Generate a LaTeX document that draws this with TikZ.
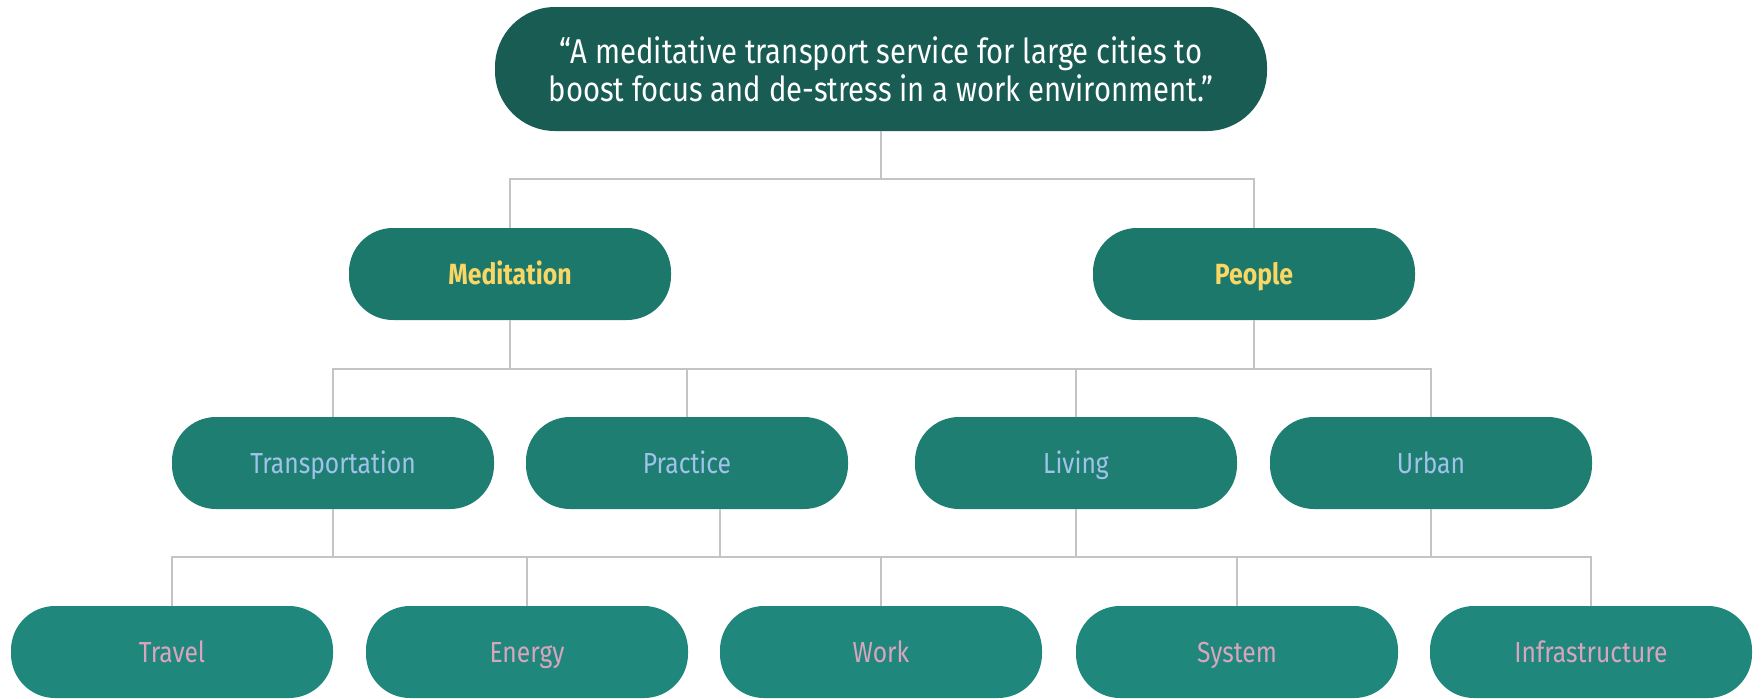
\documentclass[tikz,border=0pt]{standalone}
\usepackage{fontspec}
\setmainfont{Fira Sans}[FakeStretch=0.85]
\usetikzlibrary{positioning}

\definecolor{topgreen}{HTML}{185C54}
\definecolor{catgreen}{HTML}{1D786C}
\definecolor{subgreen}{HTML}{1F7E72}
\definecolor{leafgreen}{HTML}{20877C}
\definecolor{catyellow}{HTML}{FAD764}
\definecolor{subblue}{HTML}{A0C3EB}
\definecolor{leafpink}{HTML}{D7A5BE}
\definecolor{linegray}{HTML}{C4C4C4}

\tikzset{
  box/.style={rounded corners=22pt, minimum width=161pt, minimum height=46pt, inner sep=0pt,
    text height=12pt, text depth=2pt},
  topbox/.style={box, rounded corners=30pt, minimum width=386pt, minimum height=62pt,
    text height=, text depth=,
    fill=topgreen, text=white, align=center, font=\fontsize{17.2}{19}\selectfont},
  catbox/.style={box, fill=catgreen, text=catyellow, font=\bfseries\fontsize{14.6}{16}\selectfont},
  subbox/.style={box, fill=subgreen, text=subblue, font=\fontsize{14.5}{16}\selectfont},
  leafbox/.style={box, fill=leafgreen, text=leafpink, font=\fontsize{14.5}{16}\selectfont},
  link/.style={draw=linegray, line width=1pt}
}

\begin{document}
\begin{tikzpicture}[x=0.5pt,y=0.5pt]
    \useasboundingbox (0,0) rectangle (1763,-698);

    % --- statement
    \node[topbox] (stmt) at (881,-69)
      {``A meditative transport service for large cities to\\boost focus and de-stress in a work environment.''};

    % --- themes
    \node[catbox] (med) at (510,-274) {Meditation};
    \node[catbox] (people) at (1254,-274) {People};

    % --- topics
    \node[subbox] (trans) at (333,-463) {Transportation};
    \node[subbox] (prac) at (687,-463) {Practice};
    \node[subbox] (living) at (1076,-463) {Living};
    \node[subbox] (urban) at (1431,-463) {Urban};

    % --- keywords
    \node[leafbox] (travel) at (172,-652) {Travel};
    \node[leafbox] (energy) at (527,-652) {Energy};
    \node[leafbox] (work) at (881,-652) {Work};
    \node[leafbox] (system) at (1237,-652) {System};
    \node[leafbox] (infra) at (1591,-652) {Infrastructure};

    % bus lines
    \coordinate (bus0) at (0,-179);
    \coordinate (bus1) at (0,-369);
    \coordinate (bus2) at (0,-557);

    \draw[link] (stmt.south) -- (stmt.south |- bus0);
    \draw[link] (med.north) |- (people.north |- bus0) -- (people.north);

    \draw[link] (med.south) -- (med.south |- bus1);
    \draw[link] (people.south) -- (people.south |- bus1);
    \draw[link] (trans.north) |- (urban.north |- bus1) -- (urban.north);
    \draw[link] (prac.north) -- (prac.north |- bus1);
    \draw[link] (living.north) -- (living.north |- bus1);

    \draw[link] (trans.south) -- (trans.south |- bus2);
    \draw[link] ([xshift=16.5pt]prac.south) -- ([xshift=16.5pt]prac.south |- bus2);
    \draw[link] (living.south) -- (living.south |- bus2);
    \draw[link] (urban.south) -- (urban.south |- bus2);
    \draw[link] (travel.north) |- (infra.north |- bus2) -- (infra.north);
    \draw[link] (energy.north) -- (energy.north |- bus2);
    \draw[link] (work.north) -- (work.north |- bus2);
    \draw[link] (system.north) -- (system.north |- bus2);
\end{tikzpicture}
\end{document}
